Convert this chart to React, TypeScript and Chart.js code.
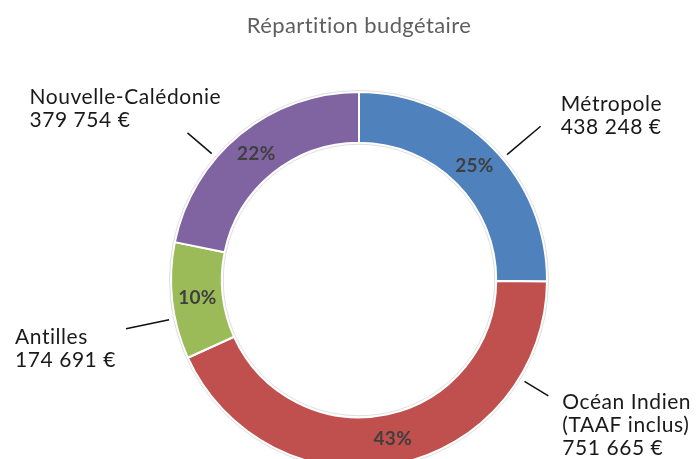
import { useEffect, useRef } from 'react';
import { Chart, registerables } from 'chart.js';

Chart.register(...registerables);

const TITLE = 'Répartition budgétaire';
const categories: string[][] = [
  ['Métropole'],
  ['Océan Indien', '(TAAF inclus)'],
  ['Antilles'],
  ['Nouvelle-Calédonie'],
];
const values = [438248, 751665, 174691, 379754];
const colors = ['#4F81BD', '#C0504D', '#9BBB59', '#8064A2'];

// Layout of the outside labels (not data): position of the leader line
// within each arc (fraction), leader length, text offset from line end.
const leaderFrac = [0.55, 0.2, 0.35, 0.37];
const leaderLen = [50, 34, 50, 38];
const textDx = [20, 14, -111, -158];
const textDy = [-15, 13, 15, -29];

const FONT = 'Lato, "Open Sans", sans-serif';

const fmt = (n: number) =>
  String(n).replace(/\B(?=(\d{3})+(?!\d))/g, ' ') + ' €';

const labelPlugin = {
  id: 'labelPlugin',
  afterDatasetsDraw(chart: any) {
    const ctx = chart.ctx as any;
    const meta = chart.getDatasetMeta(0);
    const total = values.reduce((a, b) => a + b, 0);
    ctx.save();
    // title
    ctx.fillStyle = '#5f5f5f';
    ctx.font = `22px ${FONT}`;
    ctx.letterSpacing = '0.4px';
    ctx.textAlign = 'center';
    ctx.textBaseline = 'alphabetic';
    ctx.fillText(TITLE, 359, 33);

    meta.data.forEach((arc: any, i: number) => {
      const { x, y, startAngle, endAngle, innerRadius, outerRadius } = arc;
      // faint outline
      if (i === 0) {
        ctx.strokeStyle = 'rgba(0,0,0,0.13)';
        ctx.lineWidth = 1;
        ctx.beginPath();
        ctx.arc(x, y, outerRadius + 1.5, 0, Math.PI * 2);
        ctx.stroke();
        ctx.beginPath();
        ctx.arc(x, y, innerRadius - 1.5, 0, Math.PI * 2);
        ctx.stroke();
      }
      // percentage
      const mid = (startAngle + endAngle) / 2;
      const rm = (innerRadius + outerRadius) / 2;
      ctx.fillStyle = '#3f3f3f';
      ctx.font = `bold 19px ${FONT}`;
      ctx.letterSpacing = '0.3px';
      ctx.textAlign = 'center';
      ctx.textBaseline = 'middle';
      ctx.fillText(
        Math.round((values[i] / total) * 100) + '%',
        x + rm * Math.cos(mid),
        y + rm * Math.sin(mid)
      );
      // leader
      const a = startAngle + (endAngle - startAngle) * leaderFrac[i];
      const r1 = outerRadius + 6;
      const r2 = outerRadius + leaderLen[i];
      const x2 = x + r2 * Math.cos(a);
      const y2 = y + r2 * Math.sin(a);
      ctx.strokeStyle = '#111111';
      ctx.lineWidth = 1.5;
      ctx.beginPath();
      ctx.moveTo(x + r1 * Math.cos(a), y + r1 * Math.sin(a));
      ctx.lineTo(x2, y2);
      ctx.stroke();
      // label text
      ctx.fillStyle = '#1a1a1a';
      ctx.font = `21px ${FONT}`;
      ctx.letterSpacing = '0.55px';
      ctx.textAlign = 'left';
      ctx.textBaseline = 'alphabetic';
      const lines = [...categories[i], fmt(values[i])];
      lines.forEach((t, k) => {
        ctx.fillText(t, x2 + textDx[i], y2 + textDy[i] + k * 23);
      });
    });
    ctx.restore();
  },
};

export default function App() {
  const ref = useRef<HTMLCanvasElement>(null);
  useEffect(() => {
    if (!ref.current) return;
    const chart = new Chart(ref.current, {
      type: 'doughnut',
      data: {
        labels: categories.map((c) => c.join(' ')),
        datasets: [
          {
            data: values,
            backgroundColor: colors,
            borderColor: '#ffffff',
            borderWidth: 2,
            hoverBorderWidth: 2,
          },
        ],
      },
      options: {
        responsive: false,
        animation: false,
        cutout: '73%',
        layout: { padding: { left: 170, right: 148, top: 91, bottom: 11 } },
        plugins: {
          legend: { display: false },
          tooltip: { enabled: false },
          title: { display: false },
        },
      },
      plugins: [labelPlugin],
    });
    return () => chart.destroy();
  }, []);
  return (
    <div
      style={{
        position: 'fixed',
        left: 0,
        top: 0,
        width: 696,
        height: 459,
        overflow: 'hidden',
        background: '#ffffff',
      }}
    >
      <canvas ref={ref} width={696} height={480} />
    </div>
  );
}
